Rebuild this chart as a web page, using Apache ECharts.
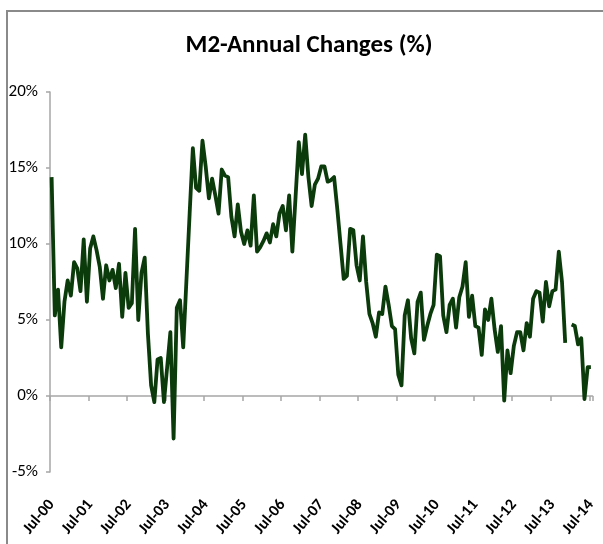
<!DOCTYPE html>
<html>
<head>
<meta charset="utf-8">
<script src="https://cdn.jsdelivr.net/npm/echarts@6/dist/echarts.min.js"></script>
<style>
  html, body { margin: 0; padding: 0; background: #fff; }
  #wrap { position: relative; width: 603px; height: 544px; overflow: hidden; }
  #frame { position: absolute; left: 6px; top: 10px; width: 700px; height: 700px;
           border-left: 2px solid #8a8a8a; border-top: 2px solid #8a8a8a; }
  #chart { position: absolute; left: 0; top: 0; width: 603px; height: 544px; }
</style>
</head>
<body>
<div id="wrap">
  <div id="frame"></div>
  <div id="chart"></div>
</div>
<script>
// months from Jul-00 to Jul-14
const startYear = 2000;
const startMonth = 6; // Jul
const monthNames = ['Jan', 'Feb', 'Mar', 'Apr', 'May', 'Jun', 'Jul', 'Aug', 'Sep', 'Oct', 'Nov', 'Dec'];

// M2 annual change, % (monthly)
const m2Change = [
  14.4, 5.3, 7.0, 3.2, 6.2, 7.6, 6.6, 8.8, 8.4, 6.9,
  10.3, 6.2, 9.7, 10.5, 9.6, 8.5, 6.4, 8.6, 7.6, 8.3,
  7.1, 8.7, 5.2, 8.1, 5.8, 6.1, 11.0, 5.0, 8.1, 9.1,
  4.1, 0.7, -0.4, 2.4, 2.5, -0.4, 1.9, 4.2, -2.8, 5.8,
  6.3, 3.2, 7.6, 12.0, 16.3, 13.7, 13.5, 16.8, 15.1, 13.0,
  14.3, 13.2, 12.0, 14.9, 14.5, 14.4, 11.8, 10.5, 12.6, 10.8,
  10.0, 10.9, 9.9, 13.2, 9.5, 9.8, 10.2, 10.7, 10.1, 11.3,
  10.5, 12.0, 12.5, 10.9, 13.2, 9.5, 13.1, 16.7, 14.6, 17.2,
  14.4, 12.5, 13.9, 14.3, 15.1, 15.1, 14.1, 14.2, 14.4, 12.3,
  10.0, 7.7, 7.9, 11.0, 10.9, 8.6, 7.6, 10.5, 7.5, 5.4,
  4.8, 3.9, 5.5, 5.4, 7.2, 6.0, 4.6, 4.4, 1.4, 0.7,
  5.3, 6.3, 3.8, 2.8, 6.2, 6.8, 3.7, 4.6, 5.4, 6.0,
  9.3, 9.2, 5.3, 4.2, 6.0, 6.4, 4.5, 6.5, 7.2, 8.8,
  5.2, 6.6, 4.6, 4.5, 2.7, 5.7, 5.0, 6.4, 4.4, 2.9,
  4.6, -0.3, 3.0, 1.5, 3.3, 4.2, 4.2, 3.0, 4.8, 3.9,
  6.4, 6.9, 6.8, 4.9, 7.5, 5.9, 6.9, 7.0, 9.5, 7.5,
  3.5, null, 4.7, 4.6, 3.4, 3.8, -0.2, 1.9, 1.9
];

const yTicks = [-5, 0, 5, 10, 15, 20];

const categories = m2Change.map((v, i) => {
  const mo = (startMonth + i) % 12;
  const yr = startYear + Math.floor((startMonth + i) / 12);
  return monthNames[mo] + '-' + String(yr % 100).padStart(2, '0');
});

const FONT = 'Carlito, Lato, "Open Sans", sans-serif';
const AXIS_GRAY = '#a6a6a6';

const chart = echarts.init(document.getElementById('chart'), null, { renderer: 'canvas' });

chart.setOption({
  animation: false,
  backgroundColor: 'transparent',
  title: {
    text: 'M2-Annual Changes (%)',
    left: 304,
    top: 28,
    textAlign: 'center',
    textStyle: { fontFamily: FONT, fontSize: 25, fontWeight: 'bold', color: '#000' }
  },
  grid: { left: 50, right: 10.5, top: 92, bottom: 72 },
  xAxis: [
    {
      // axis line through 0% with yearly ticks
      type: 'category',
      data: categories,
      boundaryGap: true,
      position: 'bottom',
      axisLine: { onZero: true, lineStyle: { color: AXIS_GRAY, width: 1.5 } },
      axisTick: { show: true, interval: 11, length: 5, lineStyle: { color: AXIS_GRAY, width: 1.5 } },
      axisLabel: { show: false },
      splitLine: { show: false }
    },
    {
      // labels along the bottom of the plot
      type: 'category',
      data: categories,
      boundaryGap: true,
      position: 'bottom',
      axisLine: { show: false, onZero: false },
      axisTick: { show: false },
      axisLabel: {
        interval: 11,
        rotate: 50,
        margin: 30,
        fontFamily: FONT,
        fontSize: 16,
        fontWeight: 'bold',
        color: '#000'
      },
      splitLine: { show: false }
    }
  ],
  yAxis: {
    type: 'value',
    min: yTicks[0],
    max: yTicks[yTicks.length - 1],
    interval: 5,
    axisLine: { show: true, lineStyle: { color: AXIS_GRAY, width: 1.5 } },
    axisTick: { show: true, length: 4, lineStyle: { color: AXIS_GRAY, width: 1.5 } },
    axisLabel: {
      formatter: '{value}%',
      margin: 12,
      fontFamily: FONT,
      fontSize: 17,
      color: '#000'
    },
    splitLine: { show: false }
  },
  series: [
    {
      type: 'line',
      xAxisIndex: 0,
      data: m2Change,
      showSymbol: false,
      symbol: 'none',
      connectNulls: false,
      lineStyle: { color: '#0b3b0b', width: 3.8, join: 'round' }
    }
  ]
});
</script>
</body>
</html>
